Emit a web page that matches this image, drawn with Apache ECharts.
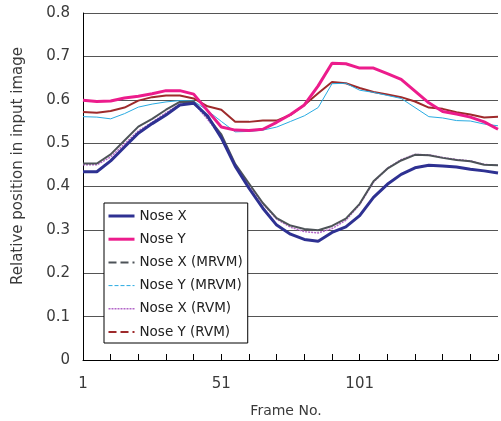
<!DOCTYPE html>
<html>
<head>
<meta charset="utf-8">
<script src="https://cdn.jsdelivr.net/npm/echarts@6/dist/echarts.min.js"></script>
<style>
html,body{margin:0;padding:0;background:#fff;}
#chart{width:501px;height:421px;}
</style>
</head>
<body>
<div id="chart"></div>
<script>
var frames = [1,6,11,16,21,26,31,36,41,46,51,56,61,66,71,76,81,86,91,96,101,106,111,116,121,126,131,136,141,146,151];
var noseX = [0.434,0.434,0.459,0.491,0.523,0.545,0.565,0.588,0.592,0.563,0.512,0.447,0.396,0.350,0.311,0.290,0.278,0.274,0.294,0.307,0.333,0.375,0.405,0.428,0.443,0.449,0.447,0.445,0.440,0.436,0.431];
var noseY = [0.599,0.596,0.597,0.604,0.608,0.614,0.621,0.621,0.613,0.575,0.537,0.530,0.529,0.532,0.548,0.566,0.588,0.632,0.684,0.683,0.673,0.673,0.660,0.647,0.620,0.593,0.573,0.567,0.560,0.549,0.532];
var noseXMRVM = [0.453,0.453,0.474,0.506,0.538,0.556,0.577,0.595,0.595,0.560,0.520,0.452,0.407,0.362,0.327,0.310,0.302,0.299,0.309,0.326,0.360,0.412,0.441,0.460,0.473,0.472,0.466,0.461,0.458,0.450,0.449];
var noseYMRVM = [0.561,0.560,0.556,0.568,0.583,0.590,0.595,0.598,0.597,0.575,0.550,0.526,0.527,0.530,0.537,0.550,0.563,0.582,0.637,0.638,0.622,0.617,0.610,0.603,0.582,0.561,0.558,0.552,0.551,0.544,0.540];
var noseXRVM = [0.450,0.450,0.468,0.498,0.528,0.548,0.570,0.590,0.593,0.555,0.515,0.450,0.404,0.360,0.325,0.306,0.296,0.293,0.303,0.322,0.358,0.410,0.442,0.462,0.474,0.473,0.467,0.462,0.459,0.451,0.449];
var noseYRVM = [0.572,0.570,0.574,0.582,0.598,0.606,0.610,0.610,0.603,0.585,0.577,0.549,0.549,0.552,0.552,0.565,0.588,0.615,0.641,0.638,0.627,0.618,0.612,0.606,0.596,0.582,0.579,0.571,0.566,0.559,0.561];
var xTickLabels = ['1','51','101'];
var seriesNames = ['Nose X','Nose Y','Nose X (MRVM)','Nose Y (MRVM)','Nose X (RVM)','Nose Y (RVM)'];

var FONT = '"DejaVu Sans", sans-serif';
function pts(vals){ return frames.map(function(f,i){ return [f-1, vals[i]]; }); }

var styles = [
  {color:'#2E3192', width:3, type:'solid', legType:'solid'},
  {color:'#EC1C8C', width:3, type:'solid', legType:'solid'},
  {color:'#4D5358', width:2, type:'solid', legType:[8,4]},
  {color:'#29ABE2', width:1, type:'solid', legType:[4,2]},
  {color:'#B266C8', width:1.5, type:[2,1], legType:[2,1]},
  {color:'#9E2A2B', width:2, type:'solid', legType:[8,4]}
];
var dataSets = [noseX, noseY, noseXMRVM, noseYMRVM, noseXRVM, noseYRVM];

var series = dataSets.map(function(d,i){
  return {
    name: seriesNames[i], type:'line', data: pts(d), symbol:'none', showSymbol:false,
    lineStyle:{color:styles[i].color, width:styles[i].width, type:styles[i].type},
    itemStyle:{color:styles[i].color},
    z: 6 - i,
    animation:false
  };
});

var chart = echarts.init(document.getElementById('chart'));
chart.setOption({
  animation:false,
  backgroundColor:'#fff',
  grid:{left:83, right:0, top:13, bottom:61, containLabel:false},
  xAxis:{
    type:'value', min:0, max:150, interval:10,
    axisLine:{show:true, lineStyle:{color:'#000', width:1}},
    axisTick:{show:true, inside:true, length:6, lineStyle:{color:'#000'}},
    splitLine:{show:false},
    axisLabel:{
      margin:17, color:'#3a3a3a', fontSize:15, fontFamily:FONT,
      formatter:function(v){ var k = Math.round(v/50); return (v%50===0 && k < xTickLabels.length) ? xTickLabels[k] : ''; }
    }
  },
  yAxis:{
    type:'value', min:0, max:0.8, interval:0.1,
    axisLine:{show:true, lineStyle:{color:'#000', width:1}},
    axisTick:{show:false},
    splitLine:{show:true, lineStyle:{color:'#555', width:1.2}},
    axisLabel:{
      margin:13, color:'#3a3a3a', fontSize:15, fontFamily:FONT,
      formatter:function(v){ return v===0 ? '0' : v.toFixed(1); }
    }
  },
  legend:{
    orient:'vertical', left:104, top:203,
    padding:[6,5,4,3],
    itemWidth:26, itemHeight:14, itemGap:9.2,
    backgroundColor:'#fff', borderColor:'#000', borderWidth:1, borderRadius:0,
    textStyle:{color:'#222', fontSize:13.5, fontFamily:FONT},
    data: seriesNames.map(function(n,i){
      return {name:n,
        itemStyle:{opacity:0},
        lineStyle:{color:styles[i].color, width:Math.min(styles[i].width,3), type:styles[i].legType}};
    })
  },
  graphic:[
    {type:'text', x:18, y:166, rotation:Math.PI/2, style:{text:'Relative position in input image', fill:'#3a3a3a', font:'15px '+FONT, align:'center', verticalAlign:'middle'}},
    {type:'text', x:286, y:411, style:{text:'Frame No.', fill:'#3a3a3a', font:'14px '+FONT, align:'center', verticalAlign:'middle'}}
  ],
  series: series
});
</script>
</body>
</html>
